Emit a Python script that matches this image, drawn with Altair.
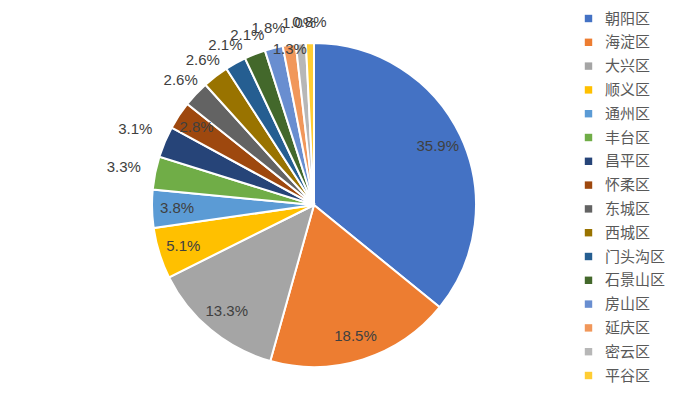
import altair as alt
import pandas as pd

districts = ["朝阳区", "海淀区", "大兴区", "顺义区", "通州区", "丰台区", "昌平区", "怀柔区",
             "东城区", "西城区", "门头沟区", "石景山区", "房山区", "延庆区", "密云区", "平谷区"]
shares = [35.9, 18.5, 13.3, 5.1, 3.8, 3.3, 3.1, 2.8, 2.6, 2.6, 2.1, 2.1, 1.8, 1.3, 1.0, 0.8]
colors = ["#4472C4", "#ED7D31", "#A5A5A5", "#FFC000", "#5B9BD5", "#70AD47", "#264478", "#9E480E",
          "#636363", "#997300", "#255E91", "#43682B", "#698ED0", "#F1975A", "#B7B7B7", "#FFCD33"]

df = pd.DataFrame({"district": districts, "share": shares, "idx": list(range(len(districts)))})

CX, CY, R = 306, 197, 162

arcs = alt.Chart(df).mark_arc(radius=R, stroke="white", strokeWidth=2).encode(
    theta=alt.Theta("share:Q", stack=True),
    order=alt.Order("idx:Q"),
    x=alt.value(CX), y=alt.value(CY),
    color=alt.Color("district:N", sort=districts,
                    scale=alt.Scale(domain=districts, range=colors),
                    legend=alt.Legend(title=None, orient="none", legendX=573, legendY=3,
                                      symbolType="square", symbolSize=55, symbolStrokeWidth=0,
                                      labelFont="Noto Sans CJK SC", labelFontSize=15,
                                      labelColor="#595959", rowPadding=7.8, labelOffset=9)),
)

labels = alt.Chart(df).transform_joinaggregate(
    total="sum(share)"
).transform_window(
    cum="sum(share)", sort=[alt.SortField("idx")], frame=[None, 0]
).transform_calculate(
    ang="(datum.cum - datum.share / 2) / datum.total * 2 * PI",
    lab="format(datum.share, '.1f') + '%'",
    lr=("datum.share >= 3.5 ? 137 : (datum.district == '怀柔区' ? 141 : "
        "(datum.district == '延庆区' ? 158 : (datum.idx <= 6 ? 194 : 183)))"),
).mark_text(font="Liberation Sans", fontSize=15, color="#404040").encode(
    x=alt.value(CX), y=alt.value(CY),
    theta=alt.Theta("ang:Q", scale=None, stack=False),
    radius=alt.Radius("lr:Q", scale=None),
    text="lab:N",
)

chart = (arcs + labels).properties(
    width=684, height=378, padding=0, autosize=alt.AutoSizeParams(type="none"),
    background="white",
).configure_view(stroke=None)

chart.save("out.html", embed_options={"renderer": "svg", "actions": False})
